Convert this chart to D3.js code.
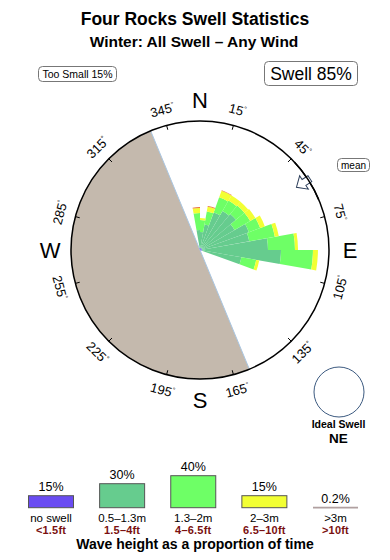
<!DOCTYPE html>
<html>
<head>
<meta charset="utf-8">
<script src="https://cdn.jsdelivr.net/npm/d3@7"></script>
<style>
  body { margin: 0; background: #fff; }
  svg { display: block; font-family: "Liberation Sans", Arial, Helvetica, sans-serif; }
</style>
</head>
<body>
<div id="chart"></div>
<script>
// ---------------- data ----------------
const directions = [355, 5, 15, 25, 35, 45, 55, 65, 75, 85, 95, 105]; // bin centres (deg)
const binWidth = 10;
const noSwell  = [0.22, 0.22, 0.22, 0.22, 0.22, 0.22, 0.22, 0.22, 0.22, 0.22, 0.22, 0.22];
const small    = [1.95, 1.74, 2.60, 4.12, 4.67, 4.88, 4.12, 5.43, 5.21, 7.16, 8.57, 4.34]; // 0.5-1.3m
const medium   = [1.85, 1.30, 1.41, 1.74, 1.30, 1.19, 1.95, 1.30, 2.82, 2.93, 3.47, 1.63]; // 1.3-2m
const large    = [0.54, 0.22, 0.54, 0.76, 0.65, 0.54, 0.65, 0.54, 0.43, 0.33, 0.54, 0.33]; // 2-3m
const huge     = [0.10, 0.00, 0.08, 0.05, 0.00, 0.00, 0.00, 0.00, 0.00, 0.00, 0.00, 0.00]; // >3m
const seriesKeys = ["noSwell", "small", "medium", "large", "huge"];
const seriesColors = ["#6a4cf2", "#66cc8e", "#6eff66", "#f2ff33", "#e8703a"];

const landFrom = 157.5, landTo = 337.5;     // shoreline sector (deg)
const meanDirection = 57;                   // mean swell direction (deg)
const tickBearings = [15, 45, 75, 105, 135, 165, 195, 225, 255, 285, 315, 345];
const compass = [["N", 0], ["E", 90], ["S", 180], ["W", 270]];

const legendPct    = [15, 30, 40, 15, 0.2];
const legendPctTxt = ["15%", "30%", "40%", "15%", "0.2%"];
const legendLabels = ["no swell", "0.5\u20131.3m", "1.3\u20132m", "2\u20133m", ">3m"];
const legendFeet   = ["<1.5ft", "1.5\u20134ft", "4\u20136.5ft", "6.5\u201310ft", ">10ft"];
const legendFill   = ["#6a4cf2", "#66cc8e", "#6eff66", "#f2ff33", "#b0a0a0"];

const titleText = "Four Rocks Swell Statistics";
const subtitleText = "Winter: All Swell \u2013 Any Wind";
const tooSmallText = "Too Small 15%";
const swellText = "Swell 85%";
const idealText = ["Ideal Swell", "NE"];
const legendTitle = "Wave height as a proportion of time";

// ---------------- chart ----------------
const W = 390, H = 560;
const cx = 200, cy = 250, R = 129;
const rad = d => d * Math.PI / 180;

const svg = d3.select("#chart").append("svg").attr("width", W).attr("height", H);

// titles
svg.append("text").attr("x", 195).attr("y", 25).attr("text-anchor", "middle")
  .attr("font-size", 17.5).attr("font-weight", "bold").text(titleText);
svg.append("text").attr("x", 194).attr("y", 47).attr("text-anchor", "middle")
  .attr("font-size", 15.5).attr("font-weight", "bold").text(subtitleText);

// boxes top
function labelBox(x, y, w, h, txt, fs) {
  svg.append("rect").attr("x", x).attr("y", y).attr("width", w).attr("height", h)
    .attr("rx", 4).attr("fill", "#fff").attr("stroke", "#777").attr("stroke-width", 1);
  svg.append("text").attr("x", x + w / 2).attr("y", y + h / 2).attr("dy", "0.35em")
    .attr("text-anchor", "middle").attr("font-size", fs).text(txt);
}
labelBox(38.5, 66.5, 78, 15, tooSmallText, 10.5);
labelBox(264.5, 61.5, 93, 24, swellText, 17.5);
labelBox(337.5, 158.5, 32, 13, "mean", 10);

// rose group
const g = svg.append("g").attr("transform", `translate(${cx},${cy})`);
const rScale = d3.scaleLinear().domain([0, 14]).range([0, R]);

// land sector
g.append("path")
  .attr("d", d3.arc()({ innerRadius: 0, outerRadius: R, startAngle: rad(landFrom), endAngle: rad(landTo) }))
  .attr("fill", "#c4b9ad");
g.append("line")
  .attr("x1", R * Math.sin(rad(landFrom))).attr("y1", -R * Math.cos(rad(landFrom)))
  .attr("x2", R * Math.sin(rad(landTo))).attr("y2", -R * Math.cos(rad(landTo)))
  .attr("stroke", "#a9c6e2").attr("stroke-width", 1);

// stacked wedges
const rows = directions.map((d, i) => ({
  dir: d, noSwell: noSwell[i], small: small[i], medium: medium[i], large: large[i], huge: huge[i]
}));
const stacked = d3.stack().keys(seriesKeys)(rows);
const arc = d3.arc();
stacked.forEach((layer, li) => {
  g.append("g").selectAll("path").data(layer).join("path")
    .attr("d", d => arc({
      innerRadius: rScale(d[0]), outerRadius: rScale(d[1]),
      startAngle: rad(d.data.dir - binWidth / 2), endAngle: rad(d.data.dir + binWidth / 2)
    }))
    .attr("fill", seriesColors[li]);
});

// outer circle
g.append("circle").attr("r", R).attr("fill", "none").attr("stroke", "#000").attr("stroke-width", 1.5);

// ticks and labels
tickBearings.forEach(b => {
  const s = Math.sin(rad(b)), c = Math.cos(rad(b));
  g.append("line").attr("x1", (R - 4.5) * s).attr("y1", -(R - 4.5) * c)
    .attr("x2", R * s).attr("y2", -R * c).attr("stroke", "#000").attr("stroke-width", 1);
  let rot = b > 180 ? b - 360 : b;
  if (b > 90 && b < 270) rot = b - 180;
  const lx = 145 * s, ly = -145 * c;
  const t = g.append("text").attr("transform", `translate(${lx},${ly}) rotate(${rot})`)
    .attr("text-anchor", "middle").attr("dy", "0.35em").attr("font-size", 13);
  t.append("tspan").text(b);
  t.append("tspan").attr("font-size", 7).attr("dy", -5).text("\u00b0");
});

compass.forEach(([lab, b]) => {
  g.append("text").attr("x", 150 * Math.sin(rad(b))).attr("y", -150 * Math.cos(rad(b)))
    .attr("dy", "0.36em").attr("text-anchor", "middle").attr("font-size", 22).text(lab);
});

// mean arrow (points toward centre)
const arrowPts = [[0, 14], [-8, 5], [-3.5, 5], [-3.5, -2], [3.5, -2], [3.5, 5], [8, 5]];
g.append("g").attr("transform", `rotate(${meanDirection}) translate(0,${-R})`)
  .append("polygon")
  .attr("points", arrowPts.map(p => p.join(",")).join(" "))
  .attr("fill", "#fff").attr("stroke", "#2c3e5a").attr("stroke-width", 1)
  .attr("stroke-linejoin", "miter");
g.append("path")
  .attr("d", d3.arc()({ innerRadius: R, outerRadius: R, startAngle: rad(meanDirection - 10), endAngle: rad(meanDirection + 10) }))
  .attr("fill", "none").attr("stroke", "#000").attr("stroke-width", 1.5);

// ideal swell
svg.append("circle").attr("cx", 339).attr("cy", 392).attr("r", 25)
  .attr("fill", "#fff").attr("stroke", "#3c5a80").attr("stroke-width", 1);
svg.append("text").attr("x", 338.5).attr("y", 428).attr("text-anchor", "middle")
  .attr("font-size", 10.5).attr("font-weight", "bold").text(idealText[0]);
svg.append("text").attr("x", 338.5).attr("y", 443).attr("text-anchor", "middle")
  .attr("font-size", 13.5).attr("font-weight", "bold").text(idealText[1]);

// legend
const legX = d3.scalePoint().domain(legendLabels).range([51, 335.5]);
const legH = d3.scaleLinear().domain([0, 40]).range([0, 32]);
const legBase = 507.7, boxW = 45;
legendLabels.forEach((lab, i) => {
  const x = legX(lab), h = legH(legendPct[i]);
  if (i < 4) {
    svg.append("rect").attr("x", x - boxW / 2).attr("y", legBase - h).attr("width", boxW).attr("height", h)
      .attr("fill", legendFill[i]).attr("stroke", "#555").attr("stroke-width", 1);
  } else {
    svg.append("rect").attr("x", x - boxW / 2).attr("y", legBase - h - 0.8).attr("width", boxW).attr("height", h + 1.6)
      .attr("fill", legendFill[i]).attr("stroke", "none");
  }
  svg.append("text").attr("x", x).attr("y", legBase - h - 5).attr("text-anchor", "middle")
    .attr("font-size", 12.5).text(legendPctTxt[i]);
  svg.append("text").attr("x", x).attr("y", 521.5).attr("text-anchor", "middle")
    .attr("font-size", 11.5).text(lab);
  svg.append("text").attr("x", x).attr("y", 534).attr("text-anchor", "middle")
    .attr("font-size", 11).attr("font-weight", "bold").attr("letter-spacing", 0.2)
    .attr("fill", "#7a1010").text(legendFeet[i]);
});
svg.append("text").attr("x", 195).attr("y", 549).attr("text-anchor", "middle")
  .attr("font-size", 14).attr("font-weight", "bold").text(legendTitle);
</script>
</body>
</html>
